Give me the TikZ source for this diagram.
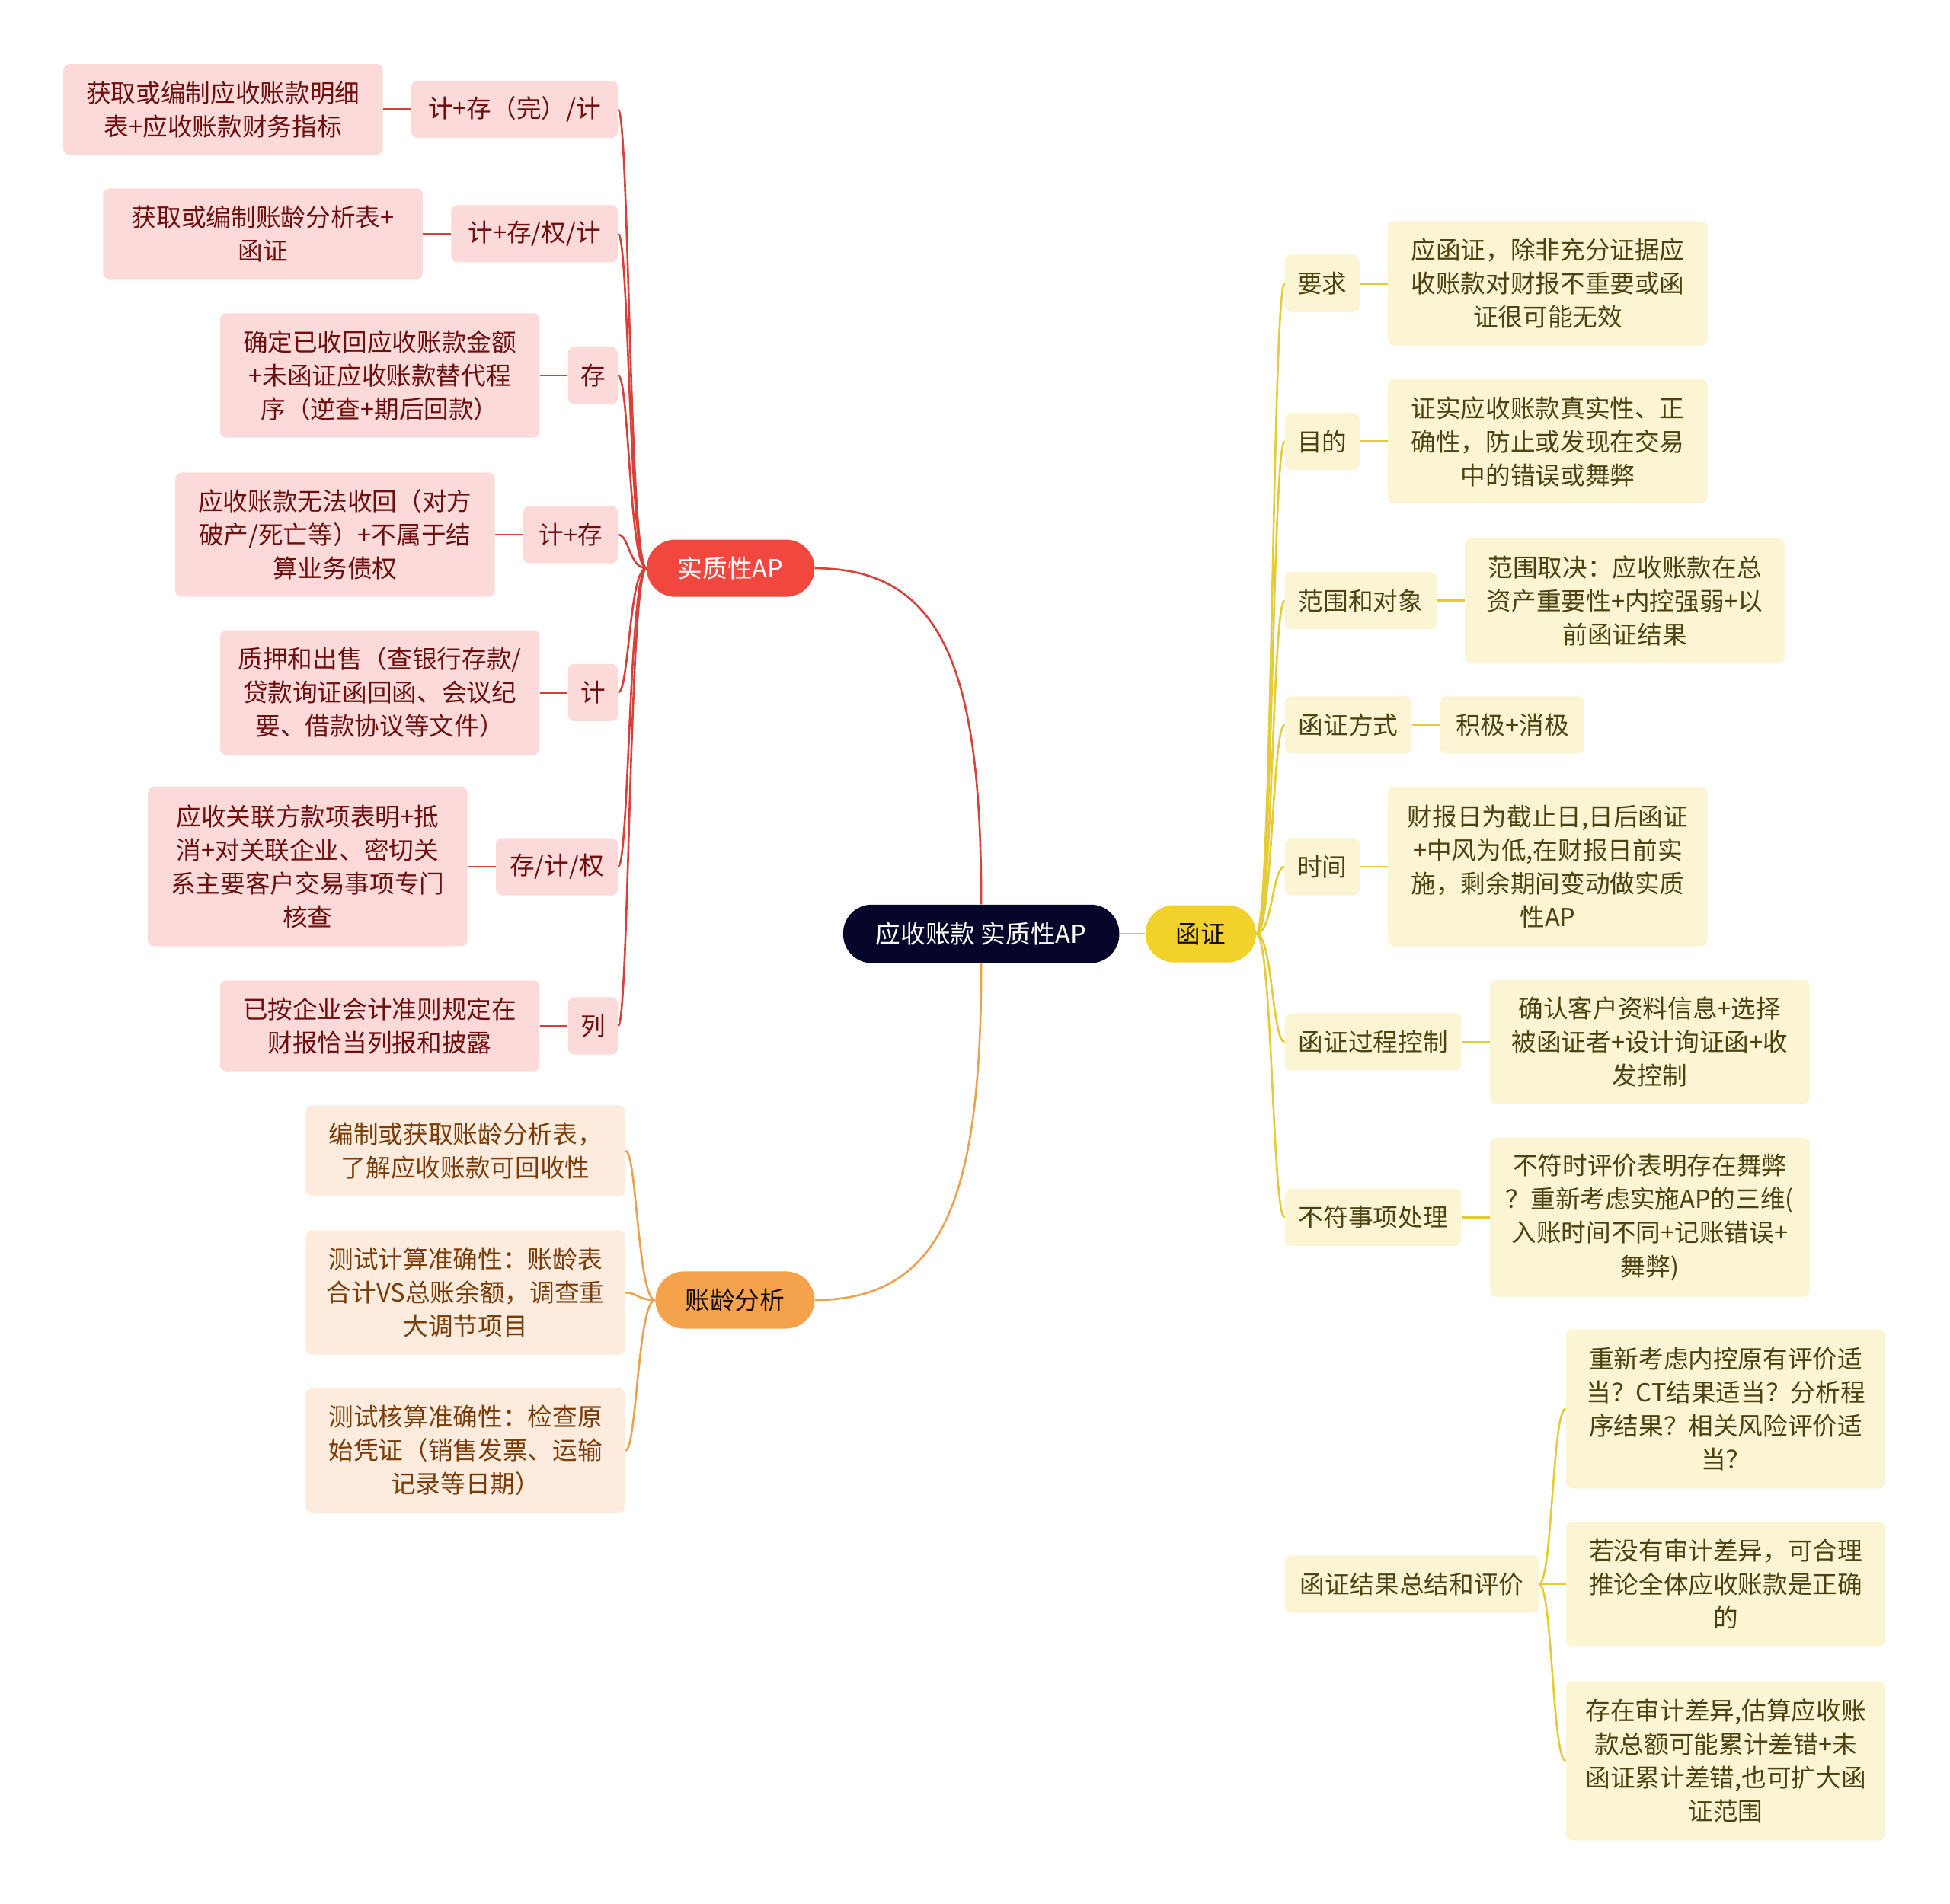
\documentclass[tikz,border=0pt]{standalone}
\usepackage{fontspec}
\setmainfont{Noto Sans CJK SC}
\usepackage{xcolor}
\usepackage{tikz}
\usetikzlibrary{positioning}

\definecolor{rootbg}{HTML}{06062A}
\definecolor{redpill}{HTML}{F2473F}
\definecolor{redln}{HTML}{D8403A}
\definecolor{redbg}{HTML}{FCDADA}
\definecolor{redtx}{HTML}{6E0F0F}
\definecolor{orpill}{HTML}{F5A24D}
\definecolor{orln}{HTML}{EAA24F}
\definecolor{orbg}{HTML}{FDEBDD}
\definecolor{ortx}{HTML}{7A3C08}
\definecolor{yepill}{HTML}{F0D22A}
\definecolor{yeln}{HTML}{E5CB35}
\definecolor{yebg}{HTML}{FCF5D3}
\definecolor{yetx}{HTML}{4D4312}

\begin{document}
\begin{tikzpicture}[
        x=1pt, y=-1pt,
        node distance=22.5pt,
        every node/.style={font=\fontsize{20}{27}\selectfont, align=center},
        rootbox/.style={rectangle, rounded corners=23pt, fill=rootbg, text=white, minimum height=47pt, minimum width=222pt},
        pill/.style={rectangle, rounded corners=23pt, minimum height=46pt, inner xsep=23pt},
        tag/.style={rectangle, rounded corners=5pt, minimum height=46pt, inner xsep=10pt, inner ysep=0pt},
        leaf/.style={rectangle, rounded corners=5pt, minimum width=257pt, inner xsep=10pt, inner ysep=0pt},
        redtag/.style={tag, fill=redbg, text=redtx},
        yetag/.style={tag, fill=yebg, text=yetx},
        redleaf/.style={leaf, fill=redbg, text=redtx, minimum height=#1},
        orleaf/.style={leaf, fill=orbg, text=ortx, minimum height=#1},
        yeleaf/.style={leaf, fill=yebg, text=yetx, minimum height=#1},
        redlink/.style={draw=redln, line width=1.6pt},
        orlink/.style={draw=orln, line width=1.6pt},
        yelink/.style={draw=yeln, line width=1.6pt}
    ]

    \fill[white] (0,0) rectangle (1568,1531);
    \useasboundingbox (0,0) rectangle (1568,1531);

    \node (root) [rootbox] at (789,751) {应收账款 实质性AP};
    \node (ap) [pill, fill=redpill, text=white, minimum width=135pt] at (587.5,457) {实质性AP};
    \node (aging) [pill, fill=orpill, text=black!80!ortx, minimum width=128pt] at (591,1045.5) {账龄分析};
    \node (hz) [pill, fill=yepill, text=black!80!yetx, minimum width=89pt] at (965.5,751) {函证};

    % substantive procedures
    \node (r1) [redtag, anchor=east, minimum width=166pt] at (497,88) {计+存（完）/计};
    \node (r2) [redtag, anchor=east, minimum width=134pt] at (497,188) {计+存/权/计};
    \node (r3) [redtag, anchor=east] at (497,302) {存};
    \node (r4) [redtag, anchor=east, minimum width=76pt] at (497,430) {计+存};
    \node (r5) [redtag, anchor=east] at (497,557) {计};
    \node (r6) [redtag, anchor=east, minimum width=98pt] at (497,697) {存/计/权};
    \node (r7) [redtag, anchor=east] at (497,825) {列};
    \node (r1l) [redleaf=73pt, left=of r1] {获取或编制应收账款明细\\表+应收账款财务指标};
    \node (r2l) [redleaf=73pt, left=of r2] {获取或编制账龄分析表+\\函证};
    \node (r3l) [redleaf=100pt, left=of r3] {确定已收回应收账款金额\\+未函证应收账款替代程\\序（逆查+期后回款）};
    \node (r4l) [redleaf=100pt, left=of r4] {应收账款无法收回（对方\\破产/死亡等）+不属于结\\算业务债权};
    \node (r5l) [redleaf=100pt, left=of r5] {质押和出售（查银行存款/\\贷款询证函回函、会议纪\\要、借款协议等文件）};
    \node (r6l) [redleaf=128pt, left=of r6] {应收关联方款项表明+抵\\消+对关联企业、密切关\\系主要客户交易事项专门\\核查};
    \node (r7l) [redleaf=73pt, left=of r7] {已按企业会计准则规定在\\财报恰当列报和披露};

    % aging analysis
    \node (o1) [orleaf=73pt, anchor=east] at (503,925.5) {编制或获取账龄分析表，\\了解应收账款可回收性};
    \node (o2) [orleaf=100pt, anchor=east] at (503,1039.5) {测试计算准确性：账龄表\\合计VS总账余额，调查重\\大调节项目};
    \node (o3) [orleaf=100pt, anchor=east] at (503,1166.5) {测试核算准确性：检查原\\始凭证（销售发票、运输\\记录等日期）};

    % confirmation
    \node (y1) [yetag, anchor=west] at (1033,228) {要求};
    \node (y2) [yetag, anchor=west] at (1033,355) {目的};
    \node (y3) [yetag, anchor=west, minimum width=122pt] at (1033,483) {范围和对象};
    \node (y4) [yetag, anchor=west, minimum width=102pt] at (1033,583) {函证方式};
    \node (y5) [yetag, anchor=west] at (1033,697) {时间};
    \node (y6) [yetag, anchor=west, minimum width=142pt] at (1033,838) {函证过程控制};
    \node (y7) [yetag, anchor=west, minimum width=142pt] at (1033,979) {不符事项处理};
    \node (y8) [yetag, anchor=west, minimum width=204pt] at (1033,1274) {函证结果总结和评价};
    \node (y1l) [yeleaf=100pt, right=of y1] {应函证，除非充分证据应\\收账款对财报不重要或函\\证很可能无效};
    \node (y2l) [yeleaf=100pt, right=of y2] {证实应收账款真实性、正\\确性，防止或发现在交易\\中的错误或舞弊};
    \node (y3l) [yeleaf=100pt, right=of y3] {范围取决：应收账款在总\\资产重要性+内控强弱+以\\前函证结果};
    \node (y4l) [yetag, right=of y4, minimum width=116pt] {积极+消极};
    \node (y5l) [yeleaf=128pt, right=of y5] {财报日为截止日,日后函证\\+中风为低,在财报日前实\\施，剩余期间变动做实质\\性AP};
    \node (y6l) [yeleaf=100pt, right=of y6] {确认客户资料信息+选择\\被函证者+设计询证函+收\\发控制};
    \node (y7l) [yeleaf=128pt, right=of y7] {不符时评价表明存在舞弊\\？重新考虑实施AP的三维(\\入账时间不同+记账错误+\\舞弊)};
    \node (y8a) [yeleaf=128pt, anchor=west] at (1259,1133) {重新考虑内控原有评价适\\当？CT结果适当？分析程\\序结果？相关风险评价适\\当？};
    \node (y8b) [yeleaf=100pt, anchor=west] at (1259,1274) {若没有审计差异，可合理\\推论全体应收账款是正确\\的};
    \node (y8c) [yeleaf=128pt, anchor=west] at (1259,1416) {存在审计差异,估算应收账\\款总额可能累计差错+未\\函证累计差错,也可扩大函\\证范围};

    \draw[redlink] (ap.east) .. controls +(105,0) and +(0,-185) .. (root.north);
    \draw[orlink] (aging.east) .. controls +(105,0) and +(0,185) .. (root.south);
    \draw[yelink] (root.east) -- (hz.west);

    \foreach \c in {r1,r2,r3,r4,r5,r6,r7} {
        \draw[redlink] (ap.west) .. controls +(-14,0) and +(9,0) .. (\c.east);
        \draw[redlink] (\c.west) -- (\c l.east);
    }
    \foreach \c in {o1,o2,o3}
        \draw[orlink] (aging.west) .. controls +(-14,0) and +(9,0) .. (\c.east);
    \foreach \c in {y1,y2,y3,y4,y5,y6,y7} {
        \draw[yelink] (hz.east) .. controls +(13,0) and +(-10,0) .. (\c.west);
        \draw[yelink] (\c.east) -- (\c l.west);
    }
    \draw[yelink] (y8.east) .. controls +(11,0) and +(-11,0) .. (y8a.west);
    \draw[yelink] (y8.east) -- (y8b.west);
    \draw[yelink] (y8.east) .. controls +(11,0) and +(-11,0) .. (y8c.west);

\end{tikzpicture}
\end{document}
